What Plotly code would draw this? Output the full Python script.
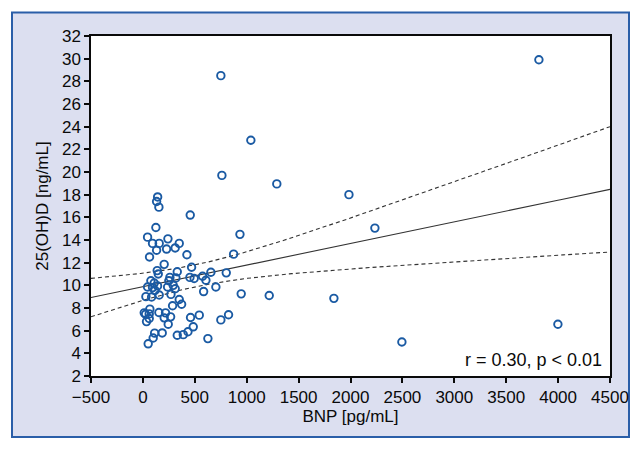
import numpy as np
import plotly.graph_objects as go

# BNP [pg/mL]
bnp = [142, 132, 154, 456, 125, 45, 241, 93, 157, 350, 132, 228, 311, 935, 424, 64, 874,
       205, 469, 138, 148, 331, 655, 803, 575, 607, 453, 494, 260, 318, 250, 77, 109,
       45, 93, 141, 238, 311, 116, 703, 585, 270, 29, 84, 157, 947, 1217, 350, 373, 286,
       67, 26, 61, 154, 218, 35, 61, 205, 267, 244, 459, 543, 751, 825, 485, 434, 389,
       331, 186, 113, 99, 51, 626, 751, 761, 1040, 1290, 1985, 2235, 3815, 1840, 2495, 3998,
       292, 13]
# 25(OH)D [ng/mL]
vitd = [17.8, 17.4, 16.9, 16.2, 15.1, 14.25, 14.1, 13.7, 13.7, 13.7, 13.1, 13.2, 13.3, 14.5, 12.7, 12.5, 12.75,
        11.85, 11.6, 11.3, 11.0, 11.2, 11.15, 11.1, 10.8, 10.45, 10.7, 10.6, 10.7, 10.65, 10.4, 10.4, 10.2,
        9.85, 9.8, 9.95, 9.85, 9.7, 9.55, 9.85, 9.45, 9.2, 9.0, 8.97, 9.15, 9.25, 9.1, 8.75, 8.33, 8.2,
        7.9, 7.45, 7.48, 7.6, 7.57, 6.8, 7.07, 7.13, 7.22, 6.57, 7.16, 7.37, 6.95, 7.4, 6.34, 5.9, 5.65,
        5.6, 5.8, 5.78, 5.35, 4.84, 5.3, 28.5, 19.7, 22.8, 18.95, 18.0, 15.05, 29.9, 8.85, 5.0, 6.57,
        10.0, 7.57]

# regression line (25(OH)D = intercept + slope * BNP)
fit_intercept = 9.875
fit_slope = 0.00191

x_range = [-500, 4500]
y_range = [2, 32]
x_ticks = list(range(-500, 4501, 500))
y_ticks = list(range(2, 33, 2))
stat_label = "r = 0.30, p < 0.01"

x = np.array(bnp, float)
y = np.array(vitd, float)
n = len(x)
resid = y - (fit_intercept + fit_slope * x)
s = np.sqrt(np.sum(resid ** 2) / (n - 2))
xm = x.mean()
sxx = np.sum((x - xm) ** 2)
xs = np.linspace(x_range[0], x_range[1], 200)
fit = fit_intercept + fit_slope * xs
h = 1.99 * s * np.sqrt(1 / n + (xs - xm) ** 2 / sxx)

font_family = "Liberation Sans, Arial, sans-serif"
ink = "#0a0a0a"

fig = go.Figure()
fig.add_trace(go.Scatter(x=xs, y=fit, mode="lines", line=dict(color="#333333", width=1.1), hoverinfo="skip"))
fig.add_trace(go.Scatter(x=xs, y=fit + h, mode="lines", line=dict(color="#333333", width=1.1, dash="4px,3px"), hoverinfo="skip"))
fig.add_trace(go.Scatter(x=xs, y=fit - h, mode="lines", line=dict(color="#333333", width=1.1, dash="4px,3px"), hoverinfo="skip"))
fig.add_trace(go.Scatter(x=bnp, y=vitd, mode="markers",
                         marker=dict(symbol="circle-open", size=7.5, color="#1a5aa3", line=dict(width=1.9, color="#1a5aa3"))))

# page body has an 8px default margin; figure coords = screen coords - 8
W, H = 635, 443
L, R, T, B = 83, 33, 27.5, 75
pw, ph = W - L - R, H - T - B
def px_x(p):
    return (p - L) / pw
def px_y(p):
    return (H - B - p) / ph

fig.add_shape(type="rect", xref="paper", yref="paper", layer="below",
              x0=px_x(4), x1=px_x(621), y0=px_y(429), y1=px_y(4),
              fillcolor="#dcdff0", line=dict(color="#2a5ea8", width=2))
fig.add_shape(type="rect", xref="paper", yref="paper", layer="below",
              x0=0, x1=1, y0=0, y1=1, fillcolor="white", line=dict(width=0))

fig.add_annotation(text=stat_label, xref="paper", yref="paper", x=px_x(596), y=px_y(352),
                   xanchor="right", yanchor="middle", showarrow=False,
                   font=dict(family=font_family, size=18, color=ink))

axis_common = dict(showgrid=False, zeroline=False, showline=True, linecolor=ink, linewidth=1.5,
                   mirror=True, ticks="outside", ticklen=5, tickwidth=1.5, tickcolor=ink,
                   tickfont=dict(family=font_family, size=17, color=ink))
fig.update_xaxes(range=x_range, tickvals=x_ticks, title=dict(text="BNP [pg/mL]", standoff=0,
                 font=dict(family=font_family, size=17, color=ink)), **axis_common)
fig.update_yaxes(range=y_range, tickvals=y_ticks, title=dict(text="25(OH)D [ng/mL]", standoff=9,
                 font=dict(family=font_family, size=17, color=ink)), **axis_common)

fig.update_layout(width=W, height=H, margin=dict(l=L, r=R, t=T, b=B, autoexpand=False),
                  paper_bgcolor="white", plot_bgcolor="white", showlegend=False)
fig.write_html("out.html")
